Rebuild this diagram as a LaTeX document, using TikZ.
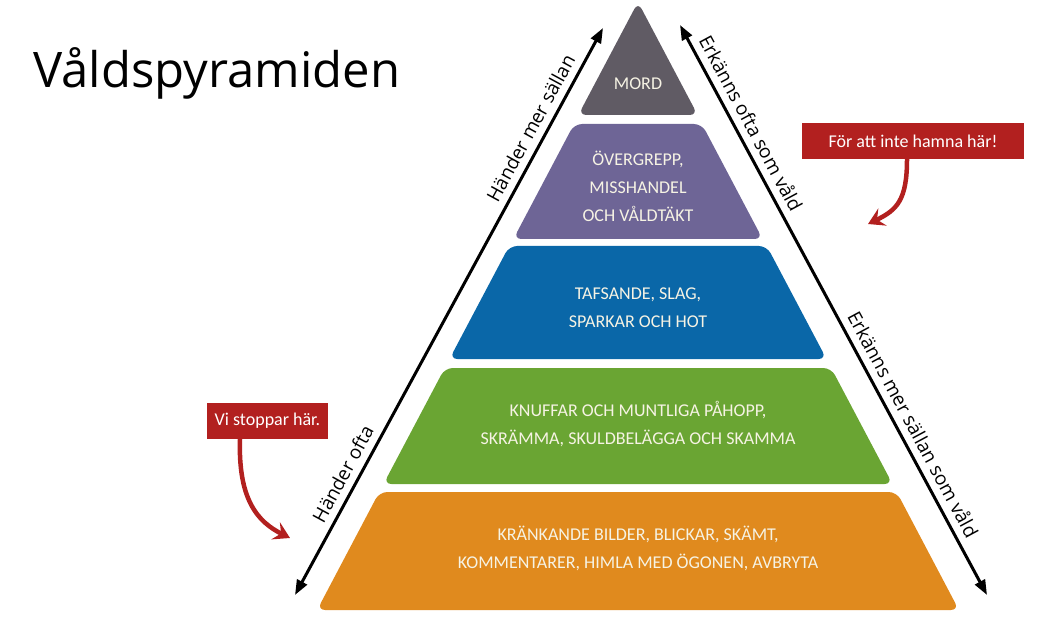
\documentclass[tikz,border=0pt]{standalone}
\usepackage{fontspec}
\setmainfont{Open Sans}
\newfontfamily\tierfont{Carlito}
\usetikzlibrary{arrows.meta}
\definecolor{mordgray}{HTML}{605B64}
\definecolor{tierpurple}{HTML}{6E6596}
\definecolor{tierblue}{HTML}{0A67A8}
\definecolor{tiergreen}{HTML}{6AA533}
\definecolor{tierorange}{HTML}{E08A1E}
\definecolor{tiertxt}{HTML}{F6F3E4}
\definecolor{notered}{HTML}{B2201F}

\begin{document}
\begin{tikzpicture}[x=1pt, y=-1pt,
        tier/.style={rounded corners=8pt},
        tiertext/.style={align=center, text=tiertxt, font=\tierfont\fontsize{18}{28}\selectfont},
        side/.style={<->, >={Triangle[length=15pt,width=11pt]}, line width=3pt},
        sidetext/.style={font=\fontsize{19}{21}\selectfont, sloped, above=5pt, inner sep=2pt},
        note/.style={fill=notered, text=white, minimum height=36pt, inner sep=0pt, font=\tierfont\fontsize{18}{20}\selectfont},
        hint/.style={-{Stealth[length=16pt,width=19pt,inset=6pt]}, line width=4.5pt, draw=notered}
    ]
        \useasboundingbox (0,0) rectangle (1043,628);

        \node[anchor=base west, font=\fontsize{49}{55}\selectfont] (title) at (30, 88) {Våldspyramiden};

        % tiers of the pyramid
        \fill[tier, mordgray] (638,2) -- (697.7,115) -- (578.3,115) -- cycle;
        \fill[tier, tierpurple] (574.1,124) -- (701.9,124) -- (762.6,239) -- (513.4,239) -- cycle;
        \fill[tier, tierblue] (509.2,246) -- (766.8,246) -- (826.5,359) -- (449.5,359) -- cycle;
        \fill[tier, tiergreen] (444.8,368) -- (831.2,368) -- (892.5,484) -- (383.5,484) -- cycle;
        \fill[tier, tierorange] (379.3,492) -- (896.7,492) -- (958.9,610) -- (317.1,610) -- cycle;

        \node[tiertext] (mord) at (638, 84) {MORD};
        \node[tiertext] (overgrepp) at (638, 186) {ÖVERGREPP,\\MISSHANDEL\\OCH VÅLDTÄKT};
        \node[tiertext] (tafsande) at (638, 308) {TAFSANDE, SLAG,\\SPARKAR OCH HOT};
        \node[tiertext] (knuffar) at (638, 424) {KNUFFAR OCH MUNTLIGA PÅHOPP,\\SKRÄMMA, SKULDBELÄGGA OCH SKAMMA};
        \node[tiertext] (krankande) at (638, 548) {KRÄNKANDE BILDER, BLICKAR, SKÄMT,\\KOMMENTARER, HIMLA MED ÖGONEN, AVBRYTA};

        % side arrows
        \coordinate (hand-lo) at (295, 595);
        \coordinate (hand-hi) at (603, 28);
        \coordinate (erk-hi) at (680, 25);
        \coordinate (erk-lo) at (987, 595);
        \draw[side] (hand-lo) -- node[sidetext, pos=0.2] (ofta) {Händer ofta}
            node[sidetext, pos=0.81] (sallan) {Händer mer sällan} (hand-hi);
        \draw[side] (erk-hi) -- node[sidetext, pos=0.186] (erkofta) {Erkänns ofta som våld}
            node[sidetext, pos=0.714] (erksallan) {Erkänns mer sällan som våld} (erk-lo);

        % notes
        \node[note, minimum width=222pt] (hamna) at (913, 141) {För att inte hamna här!};
        \node[note, minimum width=121pt] (stoppar) at (267.5, 421) {Vi stoppar här.};
        \coordinate (hamna-tip) at (868, 224);
        \coordinate (stoppar-tip) at (290, 538);
        \draw[hint] (hamna.south -| 907,0) .. controls (907,200) and (897,210) .. (hamna-tip);
        \draw[hint] (stoppar.south -| 240,0) .. controls (238,500) and (258,522) .. (stoppar-tip);
    \end{tikzpicture}
\end{document}
